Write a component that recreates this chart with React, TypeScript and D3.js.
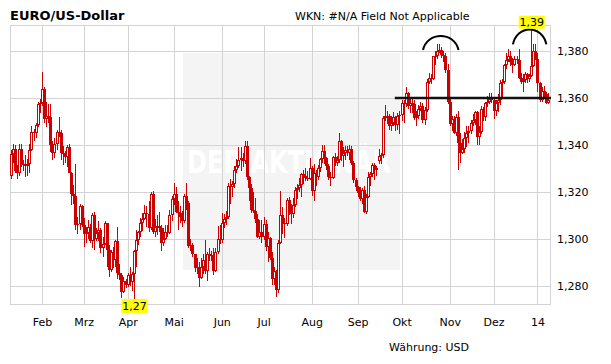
import React from "react"
import * as d3 from "d3"

// daily candles per month: [day, open, high, low, close]
const jan13 = [
	[11, 1.327, 1.338, 1.3255, 1.3363], [14, 1.3363, 1.3405, 1.3325, 1.3382], [15, 1.3382, 1.3402, 1.3282, 1.329],
	[16, 1.329, 1.3315, 1.3255, 1.3282], [17, 1.3282, 1.3404, 1.327, 1.3385], [18, 1.3385, 1.3405, 1.3305, 1.3315],
	[21, 1.3315, 1.3335, 1.329, 1.332], [22, 1.332, 1.3357, 1.3265, 1.3312], [23, 1.3312, 1.334, 1.327, 1.3318],
	[24, 1.3318, 1.3405, 1.328, 1.338], [25, 1.338, 1.348, 1.3375, 1.3455], [28, 1.3455, 1.347, 1.3415, 1.345],
	[29, 1.345, 1.3495, 1.343, 1.3485], [30, 1.3485, 1.3585, 1.3475, 1.3575], [31, 1.3575, 1.3595, 1.3535, 1.358],
]
const feb13 = [
	[1, 1.358, 1.371, 1.3565, 1.364], [4, 1.364, 1.3645, 1.3495, 1.351], [5, 1.351, 1.3585, 1.3475, 1.3525],
	[6, 1.3525, 1.3575, 1.3495, 1.352], [7, 1.352, 1.3575, 1.337, 1.34], [8, 1.34, 1.3415, 1.3335, 1.3365],
	[11, 1.3365, 1.343, 1.3345, 1.3405], [12, 1.3405, 1.3465, 1.338, 1.3455], [13, 1.3455, 1.352, 1.3435, 1.345],
	[14, 1.345, 1.3465, 1.3335, 1.3365], [15, 1.3365, 1.3395, 1.3315, 1.336], [18, 1.336, 1.3375, 1.3325, 1.335],
	[19, 1.335, 1.34, 1.3305, 1.339], [20, 1.339, 1.3405, 1.328, 1.3282], [21, 1.3282, 1.3285, 1.3145, 1.319],
	[22, 1.319, 1.323, 1.315, 1.3185], [25, 1.3185, 1.332, 1.304, 1.306], [26, 1.306, 1.3095, 1.302, 1.3065],
	[27, 1.3065, 1.315, 1.304, 1.314], [28, 1.314, 1.3145, 1.305, 1.306],
]
const mar13 = [
	[1, 1.306, 1.309, 1.2965, 1.302], [4, 1.302, 1.305, 1.2985, 1.3025], [5, 1.3025, 1.308, 1.3, 1.305],
	[6, 1.305, 1.3065, 1.2985, 1.299], [7, 1.299, 1.311, 1.296, 1.31], [8, 1.31, 1.3115, 1.2955, 1.3],
	[11, 1.3, 1.3045, 1.299, 1.3025], [12, 1.3025, 1.3075, 1.299, 1.304], [13, 1.304, 1.3045, 1.294, 1.296],
	[14, 1.296, 1.301, 1.2925, 1.298], [15, 1.298, 1.3075, 1.2975, 1.307], [18, 1.307, 1.307, 1.288, 1.2955],
	[19, 1.2955, 1.2975, 1.284, 1.287], [20, 1.287, 1.2955, 1.286, 1.2945], [21, 1.2945, 1.2965, 1.2875, 1.291],
	[22, 1.291, 1.2995, 1.288, 1.299], [25, 1.299, 1.305, 1.283, 1.2855], [26, 1.2855, 1.2895, 1.2825, 1.2845],
	[27, 1.2845, 1.2855, 1.275, 1.2775], [28, 1.2775, 1.284, 1.277, 1.282], [29, 1.282, 1.283, 1.279, 1.2805],
]
const apr13 = [
	[1, 1.2805, 1.2855, 1.2795, 1.2845], [2, 1.2845, 1.288, 1.28, 1.2815], [3, 1.2815, 1.286, 1.278, 1.285],
	[4, 1.285, 1.2955, 1.2745, 1.295], [5, 1.295, 1.304, 1.288, 1.2995], [8, 1.2995, 1.3035, 1.2975, 1.303],
	[9, 1.303, 1.309, 1.301, 1.307], [10, 1.307, 1.311, 1.3035, 1.3085], [11, 1.3085, 1.3145, 1.308, 1.311],
	[12, 1.311, 1.314, 1.305, 1.3105], [15, 1.3105, 1.316, 1.303, 1.3045], [16, 1.3045, 1.32, 1.304, 1.319],
	[17, 1.319, 1.3205, 1.302, 1.303], [18, 1.303, 1.3085, 1.301, 1.305], [19, 1.305, 1.31, 1.3015, 1.3055],
	[22, 1.3055, 1.3115, 1.303, 1.3045], [23, 1.3045, 1.306, 1.295, 1.2985], [24, 1.2985, 1.3045, 1.297, 1.3],
	[25, 1.3, 1.306, 1.2995, 1.303], [26, 1.303, 1.306, 1.301, 1.3025], [29, 1.3025, 1.3125, 1.302, 1.31],
	[30, 1.31, 1.3185, 1.3075, 1.317],
]
const may13 = [
	[1, 1.317, 1.324, 1.3145, 1.319], [2, 1.319, 1.322, 1.311, 1.3115], [3, 1.3115, 1.316, 1.304, 1.3112],
	[6, 1.3112, 1.314, 1.307, 1.3095], [7, 1.3095, 1.312, 1.305, 1.3075], [8, 1.3075, 1.319, 1.307, 1.3185],
	[9, 1.3185, 1.324, 1.3125, 1.3155], [10, 1.3155, 1.316, 1.296, 1.297], [13, 1.297, 1.3, 1.295, 1.2975],
	[14, 1.2975, 1.2985, 1.2925, 1.2935], [15, 1.2935, 1.2938, 1.286, 1.2875], [16, 1.2875, 1.292, 1.285, 1.288],
	[17, 1.288, 1.29, 1.2795, 1.2835], [20, 1.2835, 1.292, 1.283, 1.288], [21, 1.288, 1.2935, 1.285, 1.291],
	[22, 1.291, 1.2995, 1.285, 1.2865], [23, 1.2865, 1.2945, 1.282, 1.2935], [24, 1.2935, 1.296, 1.2905, 1.2932],
	[27, 1.2932, 1.295, 1.2905, 1.293], [28, 1.293, 1.296, 1.2845, 1.2865], [29, 1.2865, 1.296, 1.286, 1.2945],
	[30, 1.2945, 1.3055, 1.2935, 1.3], [31, 1.3, 1.306, 1.298, 1.2995],
]
const jun13 = [
	[3, 1.2995, 1.311, 1.2985, 1.307], [4, 1.307, 1.3105, 1.3045, 1.3085], [5, 1.3085, 1.312, 1.306, 1.3095],
	[6, 1.3095, 1.324, 1.3085, 1.3225], [7, 1.3225, 1.3255, 1.315, 1.322], [10, 1.322, 1.3245, 1.318, 1.3235],
	[11, 1.3235, 1.331, 1.3215, 1.3295], [12, 1.3295, 1.334, 1.328, 1.331], [13, 1.331, 1.339, 1.33, 1.3335],
	[14, 1.3335, 1.339, 1.329, 1.3345], [17, 1.3345, 1.3365, 1.3305, 1.333], [18, 1.333, 1.3415, 1.332, 1.3395],
	[19, 1.3395, 1.3415, 1.325, 1.3265], [20, 1.3265, 1.327, 1.316, 1.3215], [21, 1.3215, 1.3235, 1.311, 1.3125],
	[24, 1.3125, 1.32, 1.311, 1.312], [25, 1.312, 1.3175, 1.307, 1.3085], [26, 1.3085, 1.3105, 1.3005, 1.301],
	[27, 1.301, 1.308, 1.3, 1.303], [28, 1.303, 1.308, 1.2985, 1.301],
]
const jul13 = [
	[1, 1.301, 1.3095, 1.2995, 1.3065], [2, 1.3065, 1.308, 1.295, 1.2965], [3, 1.2965, 1.303, 1.29, 1.3005],
	[4, 1.3005, 1.301, 1.291, 1.292], [5, 1.292, 1.2945, 1.2805, 1.283], [8, 1.283, 1.288, 1.2805, 1.2865],
	[9, 1.2865, 1.287, 1.2755, 1.2785], [10, 1.2785, 1.2995, 1.277, 1.2985], [11, 1.2985, 1.3205, 1.298, 1.31],
	[12, 1.31, 1.3135, 1.302, 1.307], [15, 1.307, 1.309, 1.3005, 1.3065], [16, 1.3065, 1.3175, 1.3055, 1.3165],
	[17, 1.3165, 1.318, 1.31, 1.3115], [18, 1.3115, 1.315, 1.3065, 1.3105], [19, 1.3105, 1.3175, 1.309, 1.3145],
	[22, 1.3145, 1.322, 1.3135, 1.321], [23, 1.321, 1.3235, 1.317, 1.3215], [24, 1.3215, 1.326, 1.32, 1.323],
	[25, 1.323, 1.328, 1.318, 1.3275], [26, 1.3275, 1.3295, 1.3235, 1.327], [29, 1.327, 1.33, 1.3245, 1.326],
	[30, 1.326, 1.329, 1.3245, 1.3255], [31, 1.3255, 1.3345, 1.325, 1.33],
]
const aug13 = [
	[1, 1.33, 1.331, 1.3185, 1.3205], [2, 1.3205, 1.332, 1.316, 1.328], [5, 1.328, 1.3295, 1.3225, 1.3265],
	[6, 1.3265, 1.3315, 1.325, 1.33], [7, 1.33, 1.3345, 1.3285, 1.334], [8, 1.334, 1.34, 1.3325, 1.3375],
	[9, 1.3375, 1.34, 1.332, 1.3345], [12, 1.3345, 1.335, 1.3295, 1.331], [13, 1.331, 1.332, 1.325, 1.3265],
	[14, 1.3265, 1.3285, 1.3225, 1.326], [15, 1.326, 1.3355, 1.3255, 1.335], [16, 1.335, 1.3365, 1.331, 1.3325],
	[19, 1.3325, 1.3355, 1.331, 1.3335], [20, 1.3335, 1.345, 1.3325, 1.3415], [21, 1.3415, 1.342, 1.333, 1.3355],
	[22, 1.3355, 1.339, 1.3305, 1.3365], [23, 1.3365, 1.3395, 1.3335, 1.338], [26, 1.338, 1.3395, 1.3355, 1.3365],
	[27, 1.3365, 1.34, 1.3335, 1.3385], [28, 1.3385, 1.3395, 1.3315, 1.3325], [29, 1.3325, 1.333, 1.324, 1.325],
	[30, 1.325, 1.326, 1.3205, 1.322],
]
const sep13 = [
	[2, 1.322, 1.3225, 1.318, 1.3195], [3, 1.3195, 1.322, 1.316, 1.317], [4, 1.317, 1.3215, 1.315, 1.321],
	[5, 1.321, 1.3225, 1.311, 1.3115], [6, 1.3115, 1.319, 1.3105, 1.318], [9, 1.318, 1.3285, 1.3175, 1.3265],
	[10, 1.3265, 1.3285, 1.3225, 1.3275], [11, 1.3275, 1.3325, 1.3265, 1.3315], [12, 1.3315, 1.3325, 1.325, 1.3295],
	[13, 1.3295, 1.331, 1.327, 1.33], [16, 1.333, 1.3385, 1.332, 1.3355], [17, 1.3355, 1.3365, 1.332, 1.3358],
	[18, 1.3358, 1.3525, 1.3345, 1.3515], [19, 1.3515, 1.357, 1.35, 1.3525], [20, 1.3525, 1.3545, 1.349, 1.3522],
	[23, 1.3522, 1.353, 1.3465, 1.348], [24, 1.348, 1.3525, 1.346, 1.3495], [25, 1.3495, 1.354, 1.348, 1.352],
	[26, 1.352, 1.3525, 1.346, 1.3485], [27, 1.3485, 1.3535, 1.3465, 1.3525], [30, 1.3525, 1.3545, 1.3445, 1.3528],
]
const oct13 = [
	[1, 1.3528, 1.359, 1.35, 1.358], [2, 1.358, 1.359, 1.3495, 1.3575], [3, 1.3575, 1.3645, 1.356, 1.362],
	[4, 1.362, 1.3625, 1.3555, 1.3565], [7, 1.3565, 1.3595, 1.3535, 1.358], [8, 1.358, 1.36, 1.3535, 1.3575],
	[9, 1.3575, 1.359, 1.3505, 1.3515], [10, 1.3515, 1.3545, 1.348, 1.3525], [11, 1.3525, 1.357, 1.351, 1.3555],
	[14, 1.3555, 1.3585, 1.3545, 1.3565], [15, 1.3565, 1.358, 1.3495, 1.3505], [16, 1.3505, 1.356, 1.3485, 1.355],
	[17, 1.355, 1.368, 1.354, 1.367], [18, 1.367, 1.3705, 1.366, 1.3685], [21, 1.3685, 1.37, 1.366, 1.368],
	[22, 1.368, 1.378, 1.3675, 1.3778], [23, 1.3778, 1.38, 1.374, 1.378], [24, 1.378, 1.383, 1.3765, 1.38],
	[25, 1.38, 1.383, 1.379, 1.3805], [28, 1.3805, 1.3815, 1.377, 1.3785], [29, 1.3785, 1.38, 1.3755, 1.378],
	[30, 1.378, 1.379, 1.3705, 1.372], [31, 1.372, 1.3745, 1.3575, 1.3585],
]
const nov13 = [
	[1, 1.3585, 1.36, 1.348, 1.349], [4, 1.349, 1.3525, 1.346, 1.351], [5, 1.351, 1.3525, 1.3445, 1.345],
	[6, 1.345, 1.353, 1.344, 1.352], [7, 1.352, 1.3545, 1.3295, 1.341], [8, 1.341, 1.345, 1.3325, 1.3365],
	[11, 1.3365, 1.3425, 1.336, 1.3385], [12, 1.3385, 1.3455, 1.3365, 1.343], [13, 1.343, 1.348, 1.339, 1.345],
	[14, 1.345, 1.348, 1.341, 1.346], [15, 1.346, 1.3505, 1.3445, 1.3495], [18, 1.3495, 1.353, 1.348, 1.3505],
	[19, 1.3505, 1.3545, 1.3485, 1.354], [20, 1.354, 1.3545, 1.34, 1.3435], [21, 1.3435, 1.348, 1.34, 1.3455],
	[22, 1.3455, 1.3565, 1.3445, 1.3555], [25, 1.3555, 1.356, 1.35, 1.352], [26, 1.352, 1.3585, 1.35, 1.358],
	[27, 1.358, 1.361, 1.356, 1.3582], [28, 1.3582, 1.362, 1.3575, 1.3595], [29, 1.3595, 1.362, 1.358, 1.359],
]
const dec13 = [
	[2, 1.359, 1.3595, 1.351, 1.3545], [3, 1.3545, 1.359, 1.3525, 1.358], [4, 1.358, 1.3615, 1.354, 1.359],
	[5, 1.359, 1.3675, 1.357, 1.3665], [6, 1.3665, 1.368, 1.3595, 1.367], [9, 1.367, 1.3745, 1.366, 1.374],
	[10, 1.374, 1.379, 1.3725, 1.376], [11, 1.376, 1.381, 1.3755, 1.378], [12, 1.378, 1.38, 1.3735, 1.3755],
	[13, 1.3755, 1.377, 1.3705, 1.374], [16, 1.374, 1.378, 1.3735, 1.3765], [17, 1.3765, 1.378, 1.3745, 1.3762],
	[18, 1.3762, 1.381, 1.368, 1.3685], [19, 1.3685, 1.3705, 1.366, 1.367], [20, 1.367, 1.37, 1.3625, 1.3675],
	[23, 1.3675, 1.371, 1.3665, 1.37], [24, 1.37, 1.3705, 1.3665, 1.368], [26, 1.368, 1.37, 1.367, 1.3695],
	[27, 1.3695, 1.3895, 1.369, 1.3735], [30, 1.3735, 1.383, 1.373, 1.38], [31, 1.38, 1.383, 1.376, 1.3765],
]
const jan14 = [
	[2, 1.3765, 1.379, 1.3625, 1.3665], [3, 1.3665, 1.367, 1.3585, 1.359], [6, 1.359, 1.3645, 1.3585, 1.363],
	[7, 1.363, 1.365, 1.36, 1.3615], [8, 1.3615, 1.3625, 1.3575, 1.358], [9, 1.358, 1.362, 1.3575, 1.359],
]

const monthBlocks = [
	{ year: 2013, month: 0, rows: jan13 }, { year: 2013, month: 1, rows: feb13 },
	{ year: 2013, month: 2, rows: mar13 }, { year: 2013, month: 3, rows: apr13 },
	{ year: 2013, month: 4, rows: may13 }, { year: 2013, month: 5, rows: jun13 },
	{ year: 2013, month: 6, rows: jul13 }, { year: 2013, month: 7, rows: aug13 },
	{ year: 2013, month: 8, rows: sep13 }, { year: 2013, month: 9, rows: oct13 },
	{ year: 2013, month: 10, rows: nov13 }, { year: 2013, month: 11, rows: dec13 },
	{ year: 2014, month: 0, rows: jan14 },
]
const monthLabels = ["Feb", "Mrz", "Apr", "Mai", "Jun", "Jul", "Aug", "Sep", "Okt", "Nov", "Dez", "14"]
const yTicks = [1.28, 1.3, 1.32, 1.34, 1.36, 1.38]

// hand drawn marks on the chart
const levelValue = 1.36
const levelFrom = "2013-09-26"
const arches = [
	{ from: "2013-10-15", to: "2013-11-07", base: 1.3804, top: 1.3868 },
	{ from: "2013-12-13", to: "2014-01-08", base: 1.3828, top: 1.3896 },
]

const W = 611
const H = 364
const plot = { left: 10, top: 25, right: 551, bottom: 305 }
const RED = "#cc0000"
const GRID = "#d3d3d3"
const FONT = "'DejaVu Sans', Verdana, sans-serif"

const keyFmt = d3.timeFormat("%Y-%m-%d")
const de = d3.formatLocale({ decimal: ",", thousands: ".", grouping: [3], currency: ["", " €"] })
const fmtTick = de.format(".3f")
const fmtExt = de.format(".2f")

type Candle = { key: string; first: boolean; o: number; h: number; l: number; c: number }

const candles: Candle[] = monthBlocks.flatMap((b) =>
	b.rows.map((r, i) => ({
		key: keyFmt(new Date(b.year, b.month, r[0])),
		first: i === 0,
		o: r[1],
		h: r[2],
		l: r[3],
		c: r[4],
	}))
)

export default function App() {
	const x = d3
		.scaleBand<string>()
		.domain(candles.map((d) => d.key))
		.range([10, 549.5])
		.padding(0)
	const cx = (k: string) => (x(k) ?? 0) + x.bandwidth() / 2
	const y = d3.scaleLinear().domain([1.28, 1.38]).range([286, 51])

	const monthStarts = candles.filter((d) => d.first).slice(1)
	const hi = d3.greatest(candles, (d) => d.h)!
	const lo = d3.least(candles, (d) => d.l)!

	// parabola-like arch between two dates
	const archPath = (a: (typeof arches)[number]) => {
		const x1 = cx(a.from)
		const x2 = cx(a.to)
		const yb = y(a.base)
		const s = yb - y(a.top)
		const w = x2 - x1
		return `M${x1},${yb} C${x1 + w * 0.12},${yb - s * 1.25} ${x2 - w * 0.12},${yb - s * 1.25} ${x2},${yb}`
	}

	return (
		<svg width={W} height={H} style={{ display: "block", position: "absolute", left: 0, top: 0 }}>
			<rect width={W} height={H} fill="#fff" />
			<defs>
				<clipPath id="plotClip">
					<rect x={plot.left} y={plot.top} width={plot.right - plot.left} height={plot.bottom - plot.top} />
				</clipPath>
			</defs>

			{/* watermark */}
			<rect x={183} y={53} width={217} height={217} fill="#f4f4f4" />
			<text
				x={187}
				y={173}
				fill="#fff"
				fontFamily={FONT}
				fontWeight="bold"
				fontSize={32}
				textLength={204}
				lengthAdjust="spacingAndGlyphs">
				DER AKTIONÄR
			</text>

			{/* grid */}
			<g stroke={GRID} strokeWidth={1}>
				{yTicks.map((t) => (
					<line key={t} x1={plot.left} x2={plot.right} y1={Math.round(y(t)) + 0.5} y2={Math.round(y(t)) + 0.5} />
				))}
				{monthStarts.map((d) => (
					<line key={d.key} x1={Math.floor(cx(d.key)) + 0.5} x2={Math.floor(cx(d.key)) + 0.5} y1={plot.top} y2={plot.bottom} />
				))}
				<rect
					x={plot.left + 0.5}
					y={plot.top + 0.5}
					width={plot.right - plot.left - 1}
					height={plot.bottom - plot.top - 1}
					fill="none"
				/>
			</g>

			{/* candles */}
			<g clipPath="url(#plotClip)">
				{candles.map((d) => {
					const px = Math.floor(cx(d.key))
					const top = Math.round(y(Math.max(d.o, d.c)))
					const bot = Math.max(Math.round(y(Math.min(d.o, d.c))), top + 1)
					const up = d.c > d.o
					return (
						<g key={d.key}>
							<rect x={px} y={Math.round(y(d.h))} width={1} height={Math.max(1, Math.round(y(d.l)) - Math.round(y(d.h)))} fill={RED} />
							<rect x={px - 1} y={top} width={3} height={bot - top} fill={RED} />
							{up && bot - top > 2 && <rect x={px} y={top + 1} width={1} height={bot - top - 2} fill="#fff" />}
						</g>
					)
				})}
			</g>

			{/* annotations */}
			<line
				x1={cx(levelFrom) - 1}
				x2={plot.right}
				y1={y(levelValue)}
				y2={y(levelValue)}
				stroke="#111"
				strokeWidth={2.6}
			/>
			{arches.map((a) => (
				<path key={a.from} d={archPath(a)} fill="none" stroke="#000" strokeWidth={2} />
			))}

			{/* high / low labels */}
			<g fontFamily={FONT} fontSize={11}>
				<rect x={cx(hi.key) - 13} y={y(hi.h) - 13} width={26} height={13} fill="#ffff00" />
				<text x={cx(hi.key)} y={y(hi.h) - 2.5} textAnchor="middle" fill="#000">
					{fmtExt(hi.h)}
				</text>
				<rect x={cx(lo.key) - 13} y={y(lo.l)} width={26} height={14} fill="#ffff00" />
				<text x={cx(lo.key)} y={y(lo.l) + 11} textAnchor="middle" fill="#000">
					{fmtExt(lo.l)}
				</text>
			</g>

			{/* axis labels */}
			<g fontFamily={FONT} fontSize={11} fill="#000">
				{yTicks.map((t) => (
					<text key={t} x={557} y={y(t)} dy="0.36em">
						{fmtTick(t)}
					</text>
				))}
				{monthStarts.map((d, i) => (
					<text key={d.key} x={cx(d.key)} y={326} textAnchor="middle">
						{monthLabels[i]}
					</text>
				))}
				<text x={389} y={351}>
					Währung: USD
				</text>
				<text x={295} y={20}>
					WKN: #N/A Field Not Applicable
				</text>
			</g>
			<text x={10} y={20} fontFamily={FONT} fontSize={13} fontWeight="bold" fill="#000">
				EURO/US-Dollar
			</text>
		</svg>
	)
}
